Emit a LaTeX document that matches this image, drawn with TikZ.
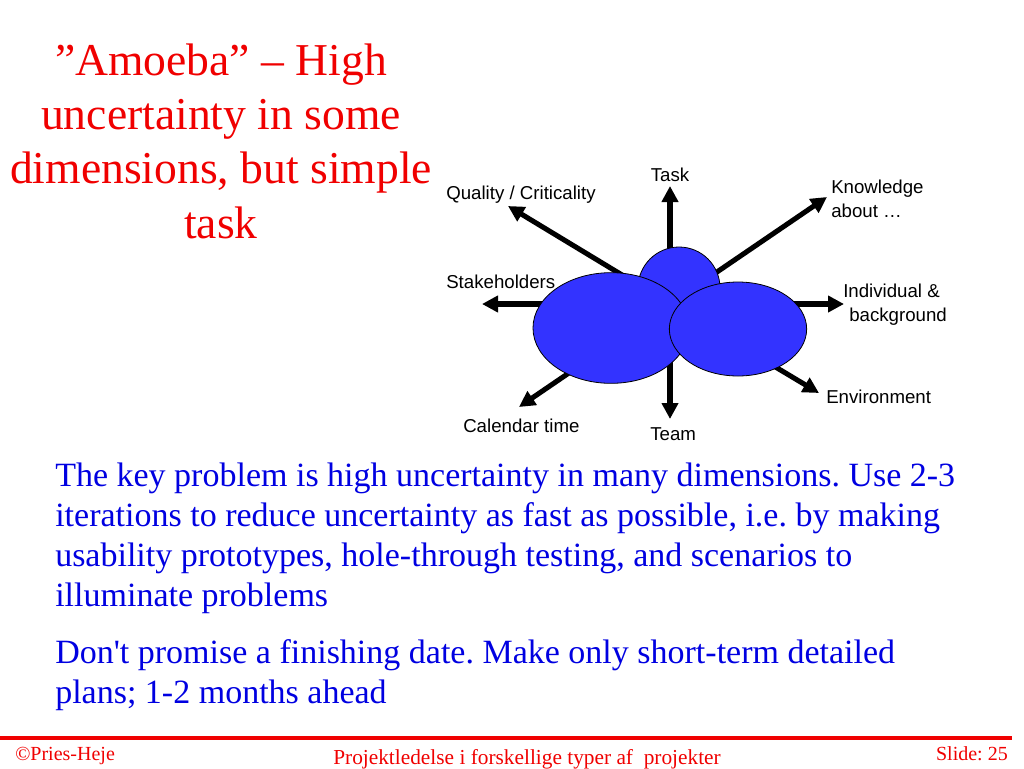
\documentclass[tikz,border=0pt]{standalone}
\usepackage{fontspec}
\setmainfont{Liberation Serif}
\newfontfamily\labelfont{Liberation Sans}
\usetikzlibrary{shapes.geometric,arrows.meta}
\definecolor{slidered}{RGB}{240,0,0}
\definecolor{textblue}{RGB}{0,0,225}
\definecolor{blobblue}{RGB}{51,51,255}
\frenchspacing

\begin{document}
\begin{tikzpicture}[x=0.75pt, y=-0.75pt,
    blob/.style={draw, ellipse, fill=blobblue, line width=0.6pt, inner sep=0pt},
    axis/.style={-{Triangle[length=12pt,width=12pt]}, line width=3.8pt},
    lbl/.style={font=\labelfont\fontsize{14}{17.5}\selectfont, inner sep=0pt,
                anchor=base west, align=left},
    body/.style={font=\fontsize{25.5}{30}\selectfont, text=textblue, inner sep=0pt,
                 anchor=base west, align=left},
    footer/.style={font=\fontsize{15}{17}\selectfont, text=slidered, inner sep=0pt}]
    \useasboundingbox (0,0) rectangle (1024,768);

    % title (base = last line)
    \node[font=\fontsize{34.2}{40.7}\selectfont, text=slidered, align=center,
          inner sep=0pt, anchor=base] (title) at (221,238)
        {”Amoeba” – High\\uncertainty in some\\dimensions, but simple\\task};

    % axes of uncertainty
    \coordinate (hub) at (670,304);
    \coordinate (task-tip)    at (670,186);
    \coordinate (team-tip)    at (670,419);
    \coordinate (stake-tip)   at (482,304);
    \coordinate (indiv-tip)   at (844,304);
    \coordinate (quality-tip) at (508,206);
    \coordinate (know-tip)    at (827,197);
    \coordinate (cal-tip)     at (519,407);
    \coordinate (env-tip)     at (819,393);
    \foreach \t in {task, team, stake, indiv, quality, know, cal, env}
        \draw[axis] (hub) -- (\t-tip);

    \node[blob, minimum width=61.5pt, minimum height=61.5pt] (top)   at (679,288) {};
    \node[blob, minimum width=117pt,  minimum height=83pt]   (left)  at (611,328) {};
    \node[blob, minimum width=103pt,  minimum height=70.5pt] (right) at (738,329) {};

    \node[lbl, anchor=base] (task) at (670,181) {Task};
    \node[lbl] (quality) at (446,199) {Quality / Criticality};
    \node[lbl] (know)    at (831,217) {Knowledge\\about …};
    \node[lbl] (stake)   at (446,288) {Stakeholders};
    \node[lbl] (indiv)   at (843,321) {Individual \&\\\hspace{4.5pt}background};
    \node[lbl] (env)     at (826,403) {Environment};
    \node[lbl] (cal)     at (463,432) {Calendar time};
    \node[lbl] (team)    at (650,440) {Team};

    % body text
    \node[body] (para1) at (55,606)
        {The key problem is high uncertainty in many dimensions. Use 2-3\\
         iterations to reduce uncertainty as fast as possible, i.e. by making\\
         usability prototypes, hole-through testing, and scenarios to\\
         illuminate problems};
    \node[body] (para2) at (55,703)
        {Don\textquotesingle t promise a finishing date. Make only short-term detailed\\
         plans; 1-2 months ahead};

    % footer
    \draw[slidered, line width=3pt] (0,738) -- (1012,738);
    \node[footer, anchor=base west] (author) at (15,760) {©Pries-Heje};
    \node[footer, anchor=base, font=\fontsize{16}{18}\selectfont] (course) at (527,764)
        {Projektledelse i forskellige typer af~ projekter};
    \node[footer, anchor=base east] (slideno) at (1008,760) {Slide: 25};
\end{tikzpicture}
\end{document}
